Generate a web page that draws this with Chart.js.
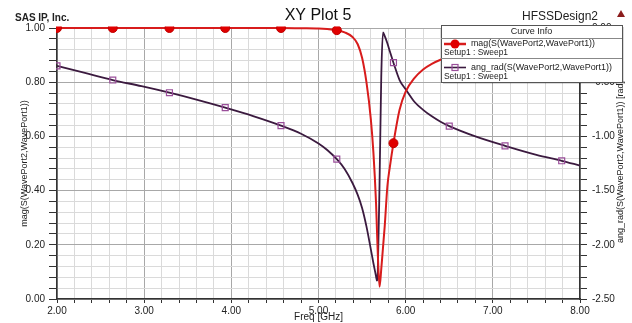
<!DOCTYPE html>
<html>
<head>
<meta charset="utf-8">
<script src="https://cdn.jsdelivr.net/npm/chart.js@4.4.0/dist/chart.umd.min.js"></script>
<style>
  html, body { margin: 0; padding: 0; background: #fff; }
  #wrap { width: 632px; height: 323px; position: relative; }
</style>
</head>
<body>
<div id="wrap"><canvas id="plot" width="632" height="323"></canvas></div>
<script>
// sweep points [GHz]
const freqs = [2.0, 2.32, 2.64, 2.97, 3.29, 3.61, 3.93, 4.25, 4.57, 4.8, 5.0, 5.1, 5.21, 5.3, 5.39, 5.45,
  5.5, 5.55, 5.6, 5.63, 5.66, 5.67, 5.68, 5.70, 5.72, 5.74, 5.76, 5.79, 5.82, 5.86, 5.93, 6.0, 6.1,
  6.2, 6.3, 6.4, 6.5, 6.8, 7.14, 7.5, 7.79, 8.0];

// mag(S(WavePort2,WavePort1))
const magS21 = [1.0, 1.0, 1.0, 1.0, 1.0, 1.0, 1.0, 1.0, 1.0, 0.999, 0.998, 0.996, 0.992, 0.984, 0.967, 0.94,
  0.89, 0.8, 0.665, 0.54, 0.355, 0.26, 0.17, 0.045, 0.11, 0.19, 0.27, 0.415, 0.49, 0.575, 0.698, 0.765, 0.815,
  0.847, 0.868, 0.883, 0.895, 0.92, 0.94, 0.955, 0.965, 0.97];

// ang_rad(S(WavePort2,WavePort1)) [rad]
const angS21 = [-0.35, -0.415, -0.48, -0.537, -0.597, -0.663, -0.735, -0.812, -0.90, -0.975, -1.065, -1.125, -1.21, -1.30, -1.43, -1.54,
  -1.66, -1.83, -2.04, -2.17, -2.29, -2.33, -2.25, -1.45, -0.45, -0.04, -0.075, -0.14, -0.22, -0.32, -0.48, -0.565, -0.68,
  -0.755, -0.815, -0.865, -0.905, -1.0, -1.087, -1.17, -1.225, -1.269];

// points that carry a marker symbol
const markerFreqs = [2.0, 2.64, 3.29, 3.93, 4.57, 5.21, 5.86, 6.5, 7.14, 7.79];

const curveNames = ['mag(S(WavePort2,WavePort1))', 'ang_rad(S(WavePort2,WavePort1))'];
const sweepName = 'Setup1 : Sweep1';

const RED = '#d81c1c';
const PURPLE = '#3b1a3f';
const FONT = "'Liberation Sans', Arial, sans-serif";

Chart.defaults.font.family = FONT;
Chart.defaults.color = '#222';

const isMult = (v, step) => Math.abs(v / step - Math.round(v / step)) < 1e-6;
const hasMarker = (ctx) => markerFreqs.some(f => Math.abs(f - freqs[ctx.dataIndex]) < 1e-6);

const gridColor = (step) => (ctx) => (ctx.tick && isMult(ctx.tick.value, step)) ? '#a8a8a8' : '#dadada';

// title, header texts and the "Curve Info" box
const decorations = {
    id: 'decorations',
    afterDraw(chart) {
        const ctx = chart.ctx;
        ctx.save();
        ctx.textBaseline = 'middle';

        ctx.fillStyle = '#222';
        ctx.font = 'bold 10px ' + FONT;
        ctx.textAlign = 'left';
        ctx.fillText('SAS IP, Inc.', 15, 18);

        ctx.font = '16px ' + FONT;
        ctx.textAlign = 'center';
        ctx.fillStyle = '#111';
        ctx.fillText('XY Plot 5', 318, 16);

        ctx.font = '12px ' + FONT;
        ctx.textAlign = 'right';
        ctx.fillStyle = '#222';
        ctx.fillText('HFSSDesign2', 598, 17);

        // small triangle
        ctx.fillStyle = '#8b1c1c';
        ctx.beginPath();
        ctx.moveTo(617, 17);
        ctx.lineTo(625, 17);
        ctx.lineTo(621, 10);
        ctx.closePath();
        ctx.fill();

        // right axis title (reads bottom to top)
        ctx.save();
        ctx.translate(621, 162);
        ctx.rotate(-Math.PI / 2);
        ctx.font = '9px ' + FONT;
        ctx.textAlign = 'center';
        ctx.fillStyle = '#222';
        ctx.fillText('ang_rad(S(WavePort2,WavePort1)) [rad]', 0, 0, 162);
        ctx.restore();

        // curve info box
        const bx = 441, by = 25, bw = 181, bh = 57;
        ctx.fillStyle = 'rgba(0,0,0,0.15)';
        ctx.fillRect(bx + 2, by + 2, bw, bh);
        ctx.fillStyle = '#fff';
        ctx.fillRect(bx, by, bw, bh);
        ctx.strokeStyle = '#555';
        ctx.lineWidth = 1;
        ctx.strokeRect(bx + 0.5, by + 0.5, bw, bh);
        ctx.beginPath();
        ctx.moveTo(bx, 38.5); ctx.lineTo(bx + bw, 38.5);
        ctx.moveTo(bx, 58.5); ctx.lineTo(bx + bw, 58.5);
        ctx.strokeStyle = '#888';
        ctx.stroke();

        ctx.font = '9px ' + FONT;
        ctx.fillStyle = '#222';
        ctx.textAlign = 'center';
        ctx.fillText('Curve Info', bx + bw / 2, 32);

        // entry 1
        ctx.strokeStyle = RED;
        ctx.lineWidth = 2.5;
        ctx.beginPath(); ctx.moveTo(444, 44); ctx.lineTo(466, 44); ctx.stroke();
        ctx.fillStyle = '#e00000';
        ctx.beginPath(); ctx.arc(455, 44, 4.5, 0, Math.PI * 2); ctx.fill();
        // entry 2
        ctx.strokeStyle = PURPLE;
        ctx.lineWidth = 1.6;
        ctx.beginPath(); ctx.moveTo(444, 67.5); ctx.lineTo(466, 67.5); ctx.stroke();
        ctx.strokeStyle = '#9a4e9a';
        ctx.lineWidth = 1.2;
        ctx.strokeRect(452, 64.5, 6, 6);

        ctx.fillStyle = '#222';
        ctx.textAlign = 'left';
        ctx.fillText(curveNames[0], 471, 44, 124);
        ctx.fillText(sweepName, 444, 53, 64);
        ctx.fillText(curveNames[1], 471, 67.5, 141);
        ctx.fillText(sweepName, 444, 76.5, 64);

        ctx.restore();
    }
};

new Chart(document.getElementById('plot'), {
    type: 'line',
    data: {
        datasets: [
            {
                label: curveNames[0],
                data: freqs.map((f, i) => ({ x: f, y: magS21[i] })),
                yAxisID: 'y',
                borderColor: RED,
                borderWidth: 2,
                clip: { left: 1, top: 1.5, right: 5, bottom: 5 },
                cubicInterpolationMode: 'monotone',
                pointStyle: 'circle',
                pointRadius: (ctx) => hasMarker(ctx) ? 4.5 : 0,
                pointBackgroundColor: '#e00000',
                pointBorderColor: '#c00000',
                pointBorderWidth: 1
            },
            {
                label: curveNames[1],
                data: freqs.map((f, i) => ({ x: f, y: angS21[i] })),
                yAxisID: 'y1',
                borderColor: PURPLE,
                borderWidth: 1.8,
                clip: { left: 1, top: 5, right: 1, bottom: 5 },
                cubicInterpolationMode: 'monotone',
                pointStyle: 'rect',
                pointRadius: (ctx) => hasMarker(ctx) ? 4.2 : 0,
                pointBackgroundColor: 'rgba(255,255,255,0)',
                pointBorderColor: '#9a4e9a',
                pointBorderWidth: 1.2
            }
        ]
    },
    options: {
        responsive: false,
        animation: false,
        devicePixelRatio: 1,
        layout: { padding: { top: 28, left: 0, right: 0, bottom: 0 } },
        plugins: {
            legend: { display: false },
            tooltip: { enabled: false }
        },
        scales: {
            x: {
                type: 'linear',
                min: 2,
                max: 8,
                afterFit: (s) => { s.height = 24; },
                ticks: {
                    stepSize: 0.2,
                    autoSkip: false,
                    maxRotation: 0,
                    padding: 2,
                    font: { size: 10 },
                    color: '#222',
                    callback: (v) => isMult(v, 1) ? v.toFixed(2) : ''
                },
                grid: { color: gridColor(1), tickColor: '#333', tickLength: 4 },
                border: { color: '#333', width: 1.5 },
                title: {
                    display: true,
                    text: 'Freq [GHz]',
                    font: { size: 10 },
                    color: '#222',
                    padding: { top: 0, bottom: 0 }
                }
            },
            y: {
                position: 'left',
                min: 0,
                max: 1,
                afterFit: (s) => { s.width = 57; },
                ticks: {
                    stepSize: 0.04,
                    autoSkip: false,
                    padding: 4,
                    font: { size: 10 },
                    color: '#222',
                    callback: (v) => isMult(v, 0.2) ? v.toFixed(2) : ''
                },
                grid: { color: gridColor(0.2), tickColor: '#333', tickLength: 8 },
                border: { color: '#333', width: 1.5 },
                title: {
                    display: true,
                    text: 'mag(S(WavePort2,WavePort1))',
                    font: { size: 9 },
                    color: '#222',
                    padding: { top: 19, bottom: 0 }
                }
            },
            y1: {
                position: 'right',
                min: -2.5,
                max: 0,
                afterFit: (s) => { s.width = 52; },
                ticks: {
                    stepSize: 0.1,
                    autoSkip: false,
                    padding: 5,
                    font: { size: 10 },
                    color: '#222',
                    callback: (v) => isMult(v, 0.5) ? v.toFixed(2) : ''
                },
                grid: { drawOnChartArea: false, color: '#333', tickLength: 7 },
                border: { color: '#333', width: 1.5 }
            }
        }
    },
    plugins: [decorations]
});
</script>
</body>
</html>
